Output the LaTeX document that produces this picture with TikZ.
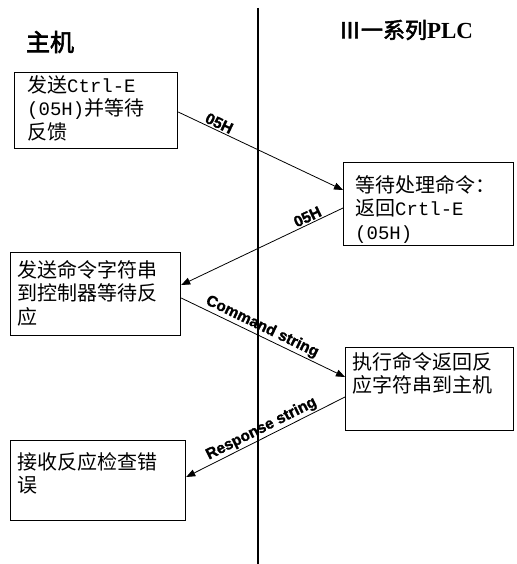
\documentclass[tikz,border=0pt]{standalone}
\usepackage{fontspec}
\usetikzlibrary{arrows.meta}
\newfontfamily\cjk{Noto Sans CJK SC}
\newfontfamily\cjkb[FakeBold=2.5]{Noto Sans CJK SC}
\newfontfamily\mono{Liberation Mono}
\newfontfamily\labfont[FakeBold=1.5]{Liberation Sans}
\newfontfamily\serb{Liberation Serif}
\tikzset{
  box/.style={draw, line width=1.2pt, inner sep=0pt, anchor=north west},
  txt/.style={inner sep=0pt, anchor=north west, align=left, font=\cjk\fontsize{20}{23.5}\selectfont},
  arr/.style={line width=0.8pt, -{Triangle[length=9pt,width=7pt]}},
  lab/.style={inner sep=1.5pt, font=\labfont\bfseries\fontsize{15.5}{17}\selectfont},
  divider/.style={line width=1.3pt},
  title/.style={inner sep=0pt}
}
\begin{document}
\begin{tikzpicture}[x=1pt,y=-1pt]
\useasboundingbox (0,0) rectangle (516,564);
\coordinate (top) at (258,8);
\coordinate (bot) at (258,564);
\draw[divider] (top) -- (bot);

\node[title] (h1) at (50,42) {\cjkb\fontsize{24}{26}\selectfont 主机};
\node[title] (h2) at (406,30) {\cjkb\fontsize{22}{24}\selectfont Ⅲ一系列{\serb\bfseries\fontsize{23}{24}\selectfont PLC}};

\node[box, minimum width=163, minimum height=76] (b1) at (14,72) {};
\node[txt] (t1) at (27,75) {发送{\mono\fontsize{19}{23}\selectfont Ctrl-E}\\{\mono\fontsize{19}{23}\selectfont (05H)}并等待\\反馈};

\node[box, minimum width=170, minimum height=83] (b2) at (343,162) {};
\node[txt] (t2) at (355,175) {等待处理命令：\\返回{\mono\fontsize{19}{23}\selectfont Crtl-E}\\{\mono\fontsize{19}{23}\selectfont (05H)}};

\node[box, minimum width=170, minimum height=83] (b3) at (10,252) {};
\node[txt] (t3) at (17,260) {发送命令字符串\\到控制器等待反\\应};

\node[box, minimum width=168, minimum height=83] (b4) at (345,347) {};
\node[txt] (t4) at (352,352) {执行命令返回反\\应字符串到主机};

\node[box, minimum width=175, minimum height=80] (b5) at (10,440) {};
\node[txt] (t5) at (17,452) {接收反应检查错\\误};

\draw[arr] ([yshift=-40pt]b1.north east) -- node[lab, sloped, above, pos=0.23] {05H} ([yshift=-28pt]b2.north west);
\draw[arr] ([yshift=-46pt]b2.north west) -- node[lab, sloped, above, pos=0.2] {05H} ([yshift=-33pt]b3.north east);
\draw[arr] ([yshift=-46pt]b3.north east) -- node[lab, sloped, above, pos=0.47] {Command string} ([yshift=-30pt]b4.north west);
\draw[arr] ([yshift=-50pt]b4.north west) -- node[lab, sloped, above, pos=0.5] {Response string} ([yshift=-37pt]b5.north east);
\end{tikzpicture}
\end{document}
